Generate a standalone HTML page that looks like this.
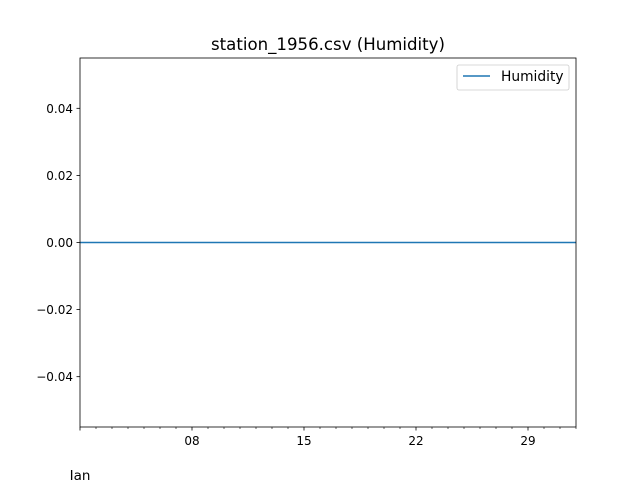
<!DOCTYPE html>
<html><head><meta charset="utf-8"><style>
html,body{margin:0;padding:0;background:#fff;}
svg{display:block;font-family:"DejaVu Sans","Liberation Sans",sans-serif;}
</style></head><body>
<svg id="chart" width="640" height="480">
<rect width="640" height="480" fill="#fff"/>
<text x="328" y="50" text-anchor="middle" font-size="16.6">station_1956.csv (Humidity)</text>
<g id="yaxis"></g>
<g id="xaxis"></g>
<g id="plot"></g>
<rect x="80" y="58" width="496" height="369" fill="none" stroke="#000" stroke-width="0.8"/>
<g>
<rect x="457" y="65" width="112" height="25" rx="2" fill="#fff" stroke="#ccc" stroke-width="0.8"/>
<line x1="463" y1="76" x2="490" y2="76" stroke="#1f77b4" stroke-width="1.5"/>
<text x="501" y="81" font-size="13.8">Humidity</text>
</g>
<text x="80" y="480" text-anchor="middle" font-size="13.5">Jan</text>
</svg>
<script>
const days = Array.from({length:32},(_,i)=>i+1);
const humidity = [0,0,0,0,0,0,0,0,0,0,0,0,0,0,0,0,0,0,0,0,0,0,0,0,0,0,0,0,0,0,0,0];
const yTicks = [-0.04,-0.02,0,0.02,0.04];
const yTickLabels = ["\u22120.04","\u22120.02","0.00","0.02","0.04"];
const xMajor = [8,15,22,29];
const xMajorLabels = ["08","15","22","29"];
const NS="http://www.w3.org/2000/svg";
const L=80,R=576,T=58,B=427;
const xMin=1,xMax=32,yMin=-0.055,yMax=0.055;
const xs=d=>L+(d-xMin)/(xMax-xMin)*(R-L);
const ys=v=>B-(v-yMin)/(yMax-yMin)*(B-T);
function mk(tag,attrs,parent){const e=document.createElementNS(NS,tag);for(const k in attrs)e.setAttribute(k,attrs[k]);parent.appendChild(e);return e;}
const ya=document.getElementById('yaxis'),xa=document.getElementById('xaxis'),plot=document.getElementById('plot');
yTicks.forEach((v,i)=>{
 const t=mk('line',{x1:L-3.5,x2:L,y1:ys(v),y2:ys(v),stroke:'#000','stroke-width':0.8},ya);
 
 
 const tx=mk('text',{x:L-7,y:ys(v)+4.5,'text-anchor':'end','font-size':12},ya);
 tx.textContent=yTickLabels[i];
 
 
});
days.forEach(d=>{
 const major=xMajor.includes(d)||d===1;
 const t=mk('line',{x1:xs(d),x2:xs(d),y1:B,y2:B+(major?3.5:2),stroke:'#000','stroke-width':major?0.8:0.6},xa);
 
 
});
xMajor.forEach((d,i)=>{
 const tx=mk('text',{x:xs(d),y:B+18,'text-anchor':'middle','font-size':12},xa);
 tx.textContent=xMajorLabels[i];
 
 
});
const p=mk('polyline',{points:days.map((d,i)=>xs(d)+','+ys(humidity[i])).join(' '),fill:'none',stroke:'#1f77b4','stroke-width':1.5},plot);


</script>
</body></html>
